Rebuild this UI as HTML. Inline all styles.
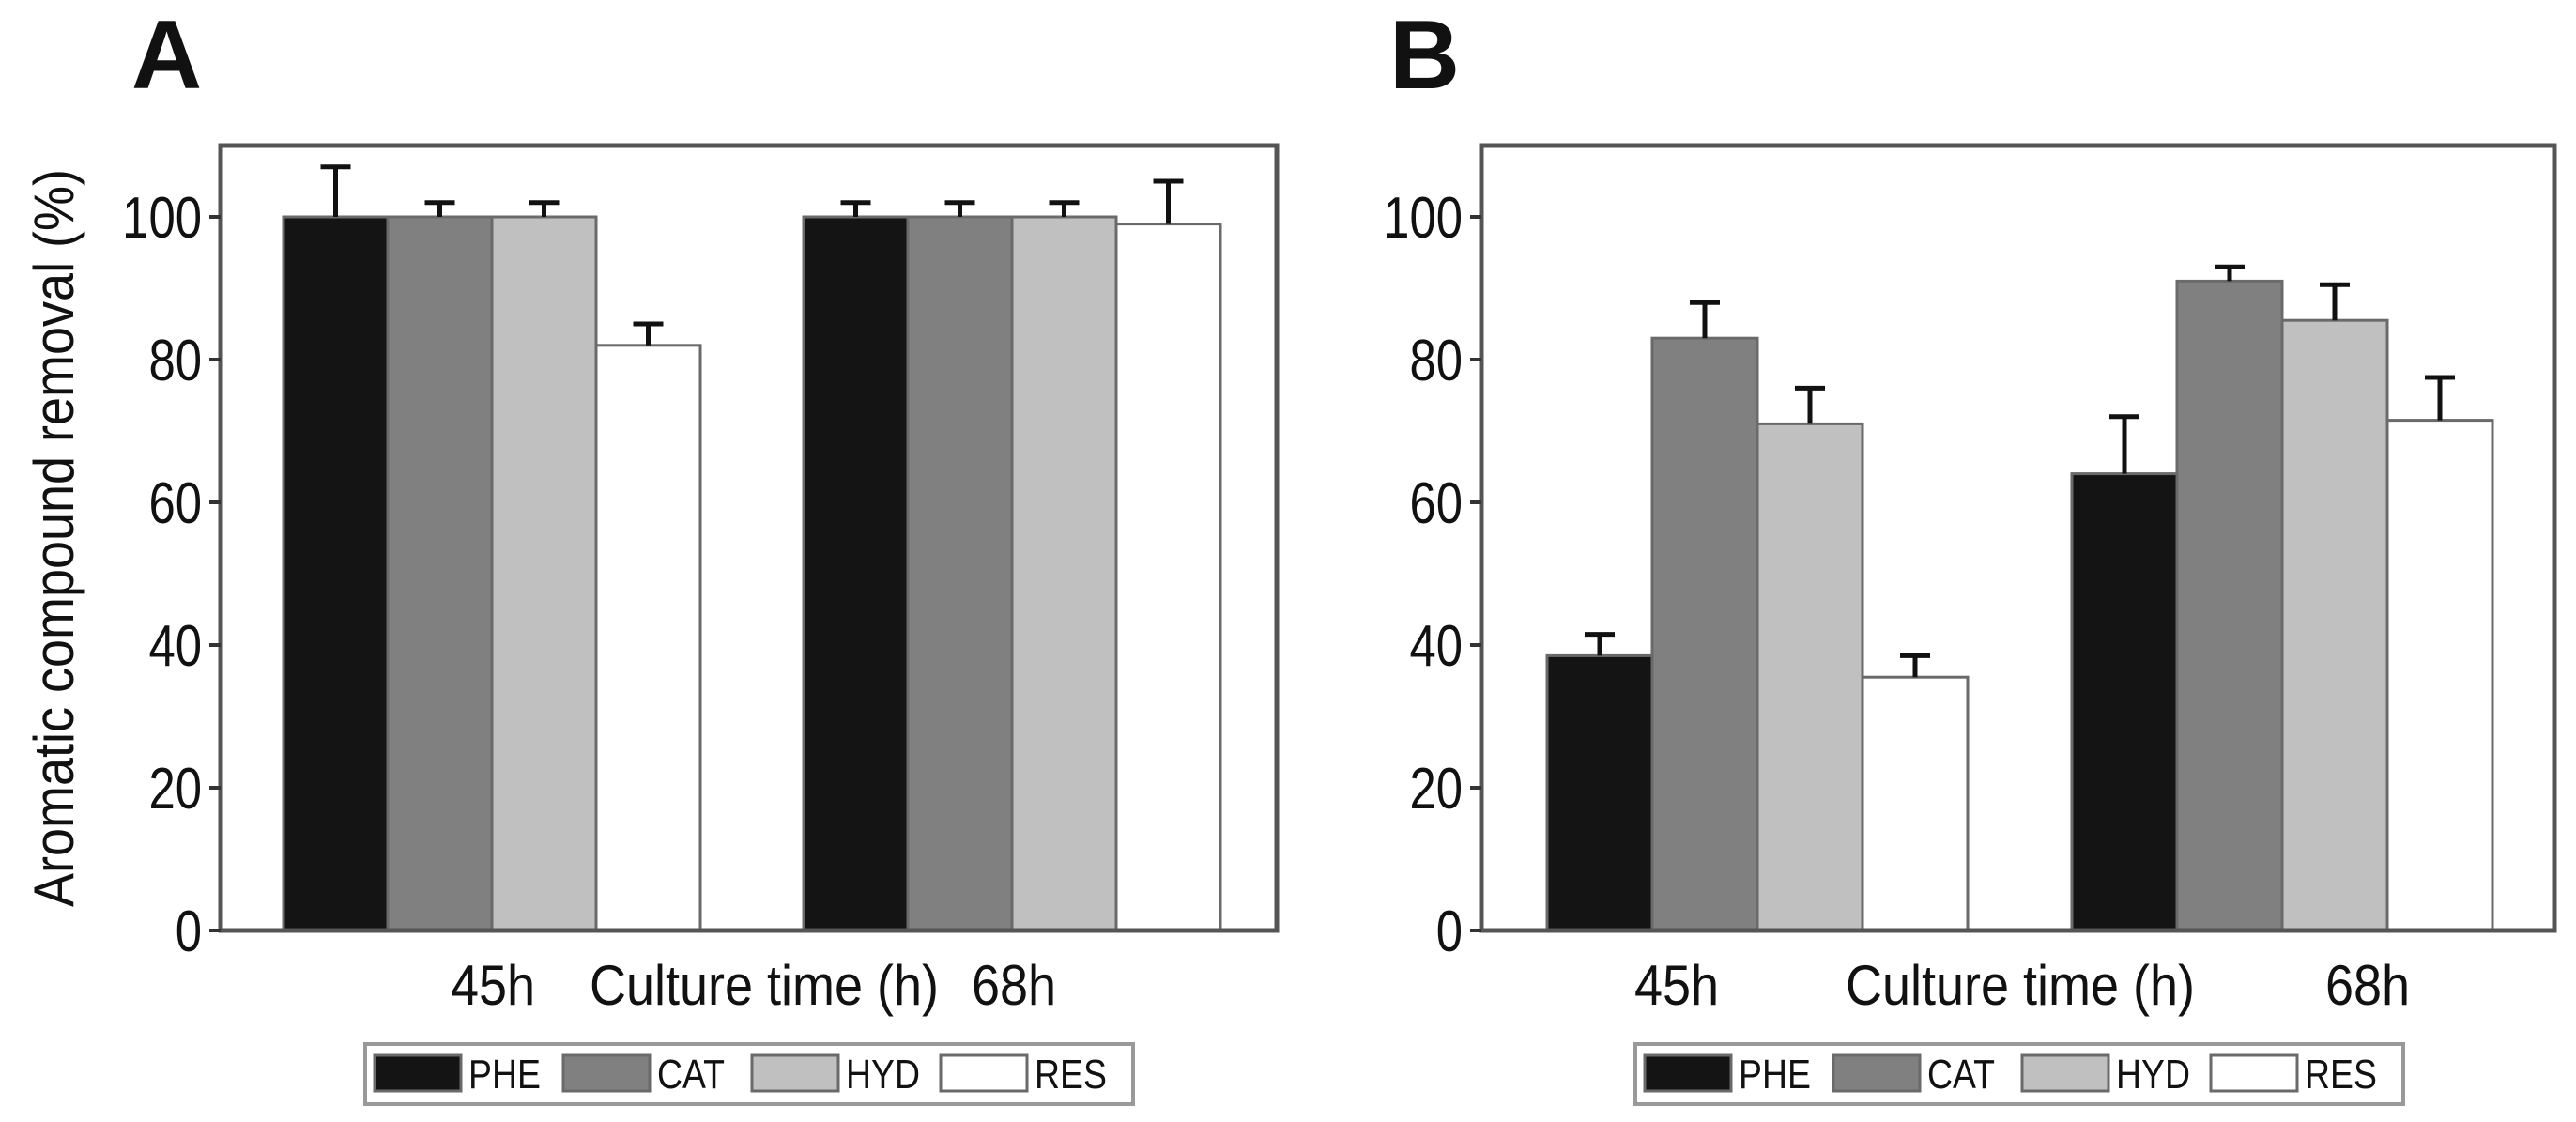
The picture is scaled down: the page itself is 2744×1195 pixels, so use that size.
<!DOCTYPE html>
<html><head><meta charset="utf-8"><style>
html,body{margin:0;padding:0;background:#fff;}
svg text{font-family:"Liberation Sans",sans-serif;}
</style></head><body>
<svg id="chart" width="2744" height="1190" viewBox="0 0 2744 1190" xmlns="http://www.w3.org/2000/svg"></svg>
<script>
const categories = ["45h", "68h"];
const seriesNames = ["PHE", "CAT", "HYD", "RES"];
const seriesColors = ["#141414", "#808080", "#c0c0c0", "#ffffff"];
const yTicks = [0, 20, 40, 60, 80, 100];
const aPHE = [100, 100], aCAT = [100, 100], aHYD = [100, 100], aRES = [82, 99];
const aErrPHE = [7, 2], aErrCAT = [2, 2], aErrHYD = [2, 2], aErrRES = [3, 6];
const bPHE = [38.5, 64], bCAT = [83, 91], bHYD = [71, 85.5], bRES = [35.5, 71.5];
const bErrPHE = [3, 8], bErrCAT = [5, 2], bErrHYD = [5, 5], bErrRES = [3, 6];

const NS = "http://www.w3.org/2000/svg";
const svg = document.getElementById("chart");
function mk(tag, attrs, parent, text) {
  const e = document.createElementNS(NS, tag);
  for (const k in attrs) e.setAttribute(k, attrs[k]);
  if (text !== undefined) e.textContent = text;
  (parent || svg).appendChild(e);
  return e;
}

const panels = [
  {key: "a", letter: "A", letterX: 140, left: 235, right: 1360, top: 155, bottom: 991,
   g0: 302, g1: 856, bw: 111, vals: [aPHE, aCAT, aHYD, aRES], errs: [aErrPHE, aErrCAT, aErrHYD, aErrRES],
   lab45: 525, labCT: 814, lab68: 1080, legL: 389, legR: 1207, ytitle: true},
  {key: "b", letter: "B", letterX: 1480, left: 1578, right: 2721, top: 155, bottom: 991,
   g0: 1648, g1: 2207, bw: 112, vals: [bPHE, bCAT, bHYD, bRES], errs: [bErrPHE, bErrCAT, bErrHYD, bErrRES],
   lab45: 1786, labCT: 2152, lab68: 2522, legL: 1742, legR: 2560, ytitle: false}
];

panels.forEach(p => {
  const g = mk("g", {});
  
  
  const y = v => p.bottom - (v / 110) * (p.bottom - p.top);
  const lt = mk("text", {x: p.letterX, y: 94, "font-size": 104, "font-weight": "bold", fill: "#111"}, g, p.letter);
  
  
  // bars
  const groupStarts = [p.g0, p.g1];
  categories.forEach((c, ci) => {
    seriesNames.forEach((s, si) => {
      const v = p.vals[si][ci];
      const x = groupStarts[ci] + si * p.bw;
      const r = mk("rect", {x: x, y: y(v), width: p.bw, height: p.bottom - y(v), fill: seriesColors[si], stroke: "#6a6a6a", "stroke-width": 3}, g);
      
      
      const e = p.errs[si][ci];
      const cx = x + p.bw / 2;
      const eb = mk("path", {d: `M${cx},${y(v)}V${y(v + e)}M${cx - 16},${y(v + e)}H${cx + 16}`, stroke: "#111", "stroke-width": 5, fill: "none"}, g);
      
      
    });
  });
  // frame
  const fr = mk("rect", {x: p.left, y: p.top, width: p.right - p.left, height: p.bottom - p.top, fill: "none", stroke: "#555", "stroke-width": 5}, g);
  
  
  // ticks
  yTicks.forEach(t => {
    const tk = mk("line", {x1: p.left - 12, x2: p.left, y1: y(t), y2: y(t), stroke: "#333", "stroke-width": 4}, g);
    
    
    const tl = mk("text", {x: 0, y: 0, "font-size": 62, fill: "#111", "text-anchor": "end",
      transform: `translate(${p.left - 20},${y(t) + 22}) scale(0.82,1)`}, g, String(t));
    
    
  });
  // x labels
  [[p.lab45, categories[0]], [p.labCT, "Culture time (h)"], [p.lab68, categories[1]]].forEach(([x, s]) => {
    const xl = mk("text", {x: 0, y: 0, "font-size": 60, fill: "#111", "text-anchor": "middle",
      transform: `translate(${x},1070) scale(0.9,1)`}, g, s);
    
    
  });
  if (p.ytitle) {
    const yt = mk("text", {x: 0, y: 0, "font-size": 60, fill: "#111", "text-anchor": "middle",
      transform: `translate(78,573) rotate(-90) scale(0.9,1)`}, g, "Aromatic compound removal (%)");
    
    
  }
  // legend
  const lg = mk("g", {}, g);
  
  
  mk("rect", {x: p.legL, y: 1112, width: p.legR - p.legL, height: 64, fill: "#fff", stroke: "#999", "stroke-width": 4}, lg);
  const step = (p.legR - p.legL - 14) / 4;
  seriesNames.forEach((s, si) => {
    const lx = p.legL + 10 + si * step;
    const le = mk("g", {}, lg);
    
    
    mk("rect", {x: lx, y: 1124, width: 92, height: 38, fill: seriesColors[si], stroke: "#6a6a6a", "stroke-width": 3}, le);
    mk("text", {x: 0, y: 0, "font-size": 44, fill: "#111", transform: `translate(${lx + 100},1159) scale(0.85,1)`}, le, s);
  });
});
</script>
</body></html>
